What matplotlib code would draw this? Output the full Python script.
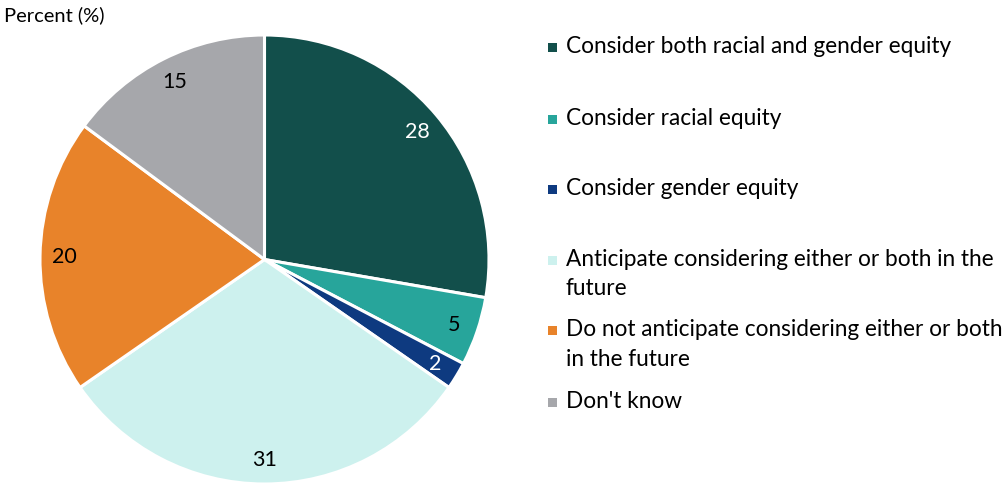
import matplotlib
matplotlib.use("Agg")
import matplotlib.pyplot as plt
from matplotlib.patches import Rectangle

plt.rcParams['font.family'] = ['Lato', 'DejaVu Sans']

categories = [
    "Consider both racial and gender equity",
    "Consider racial equity",
    "Consider gender equity",
    "Anticipate considering either or both in the\nfuture",
    "Do not anticipate considering either or both\nin the future",
    "Don't know",
]
values = [28, 5, 2, 31, 20, 15]
colors = ['#124f4b', '#27a59b', '#0e3a80', '#cdf1ee', '#e8832a', '#a6a7ab']
label_colors = ['white', 'black', 'white', 'black', 'black', 'black']

W, H = 1007, 485
fig = plt.figure(figsize=(W / 100, H / 100), dpi=100)

# pie axes: 448 px square, left edge at x=40, top at y=36
ax = fig.add_axes([40 / W, 1 - 485 / H, 449 / W, 449 / H])
wedges, texts = ax.pie(
    values, colors=colors, startangle=90, counterclock=False,
    labels=[str(v) for v in values], labeldistance=0.89,
    wedgeprops=dict(edgecolor='white', linewidth=2.2),
    textprops=dict(fontsize=15.5, ha='center', va='center'),
)
for t, c in zip(texts, label_colors):
    t.set_color(c)
ax.set_xlim(-1.0, 1.0)
ax.set_ylim(-1.0, 1.0)
ax.set_aspect('equal')

fig.text(4 / W, 1 - 15 / H, "Percent (%)", fontsize=14.5, va='center', ha='left')

# legend drawn by hand, rows at these pixel heights (first line of each entry)
rows = [48, 120, 190, 261, 331, 403]
for y, lab, c in zip(rows, categories, colors):
    fig.add_artist(Rectangle((548 / W, 1 - (y + 5) / H), 9 / W, 9 / H,
                             transform=fig.transFigure, facecolor=c, edgecolor='none'))
    fig.text(566 / W, 1 - (y - 12) / H, lab, fontsize=16.3, va='top', ha='left',
             linespacing=1.5)

fig.savefig("out.png", dpi=100)
